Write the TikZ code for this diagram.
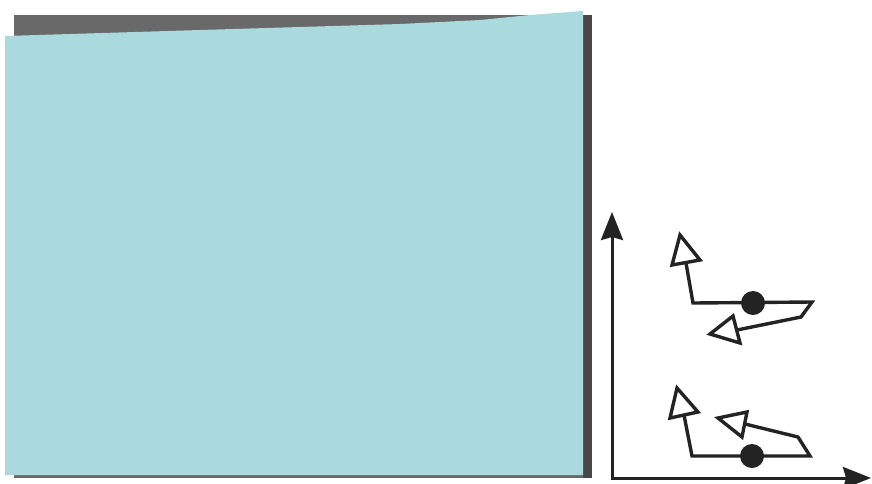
\documentclass[tikz,border=0pt]{standalone}
\usetikzlibrary{arrows.meta}
\definecolor{cardblue}{RGB}{170,217,222}
\definecolor{backgray}{RGB}{105,105,105}
\definecolor{edgegray}{RGB}{72,72,72}
\definecolor{ink}{RGB}{35,35,35}
\tikzset{
  axisline/.style={draw=ink,line width=3pt,-{Stealth[length=28pt,width=22pt,inset=3pt]}},
  pathline/.style={draw=ink,line width=3.4pt,line join=miter,line cap=butt},
  opentip/.style={draw=ink,fill=white,line width=3.4pt,line join=miter},
  dot/.style={circle,fill=ink,inner sep=0pt,minimum size=24pt}
}
\begin{document}
\begin{tikzpicture}[x=1pt,y=-1pt]
\useasboundingbox (0,0) rectangle (872,483);
% backing sheet
\fill[backgray] (14,15) rectangle (592,478);
\fill[edgegray] (583,15) rectangle (592,478);
% blue card
\fill[cardblue] (5,36) -- (200,30) -- (400,24) -- (480,20) -- (530,15) -- (583,11) -- (583,475) -- (5,475) -- cycle;
% axes
\coordinate (ytip) at (612,212);
\coordinate (orig) at (612,478);
\coordinate (xtip) at (871,478);
\draw[axisline] (orig) -- (ytip);
\draw[axisline,line cap=rect] (orig) -- (xtip);
% upper figure
\coordinate (u1) at (686,263);
\coordinate (u2) at (693,303);
\coordinate (u3) at (812,302);
\coordinate (u4) at (801,317);
\coordinate (u5) at (737,330);
\draw[pathline] (u1) -- (u2) -- (u3) -- (u4) -- (u5);
\draw[opentip] (680,235) -- (700,260) -- (672,265) -- cycle;
\draw[opentip] (710,334) -- (733,316) -- (740,343) -- cycle;
\node[dot] (udot) at (753,303) {};
% lower figure
\coordinate (l1) at (684,415);
\coordinate (l2) at (692,456);
\coordinate (l3) at (810,456);
\coordinate (l4) at (798,437);
\coordinate (l5) at (745,424);
\draw[pathline] (l1) -- (l2) -- (l3) -- (l4) -- (l5);
\draw[opentip] (677,388) -- (698,412) -- (670,418) -- cycle;
\draw[opentip] (718,418) -- (747,412) -- (742,437) -- cycle;
\node[dot] (ldot) at (752,456) {};
\end{tikzpicture}
\end{document}
